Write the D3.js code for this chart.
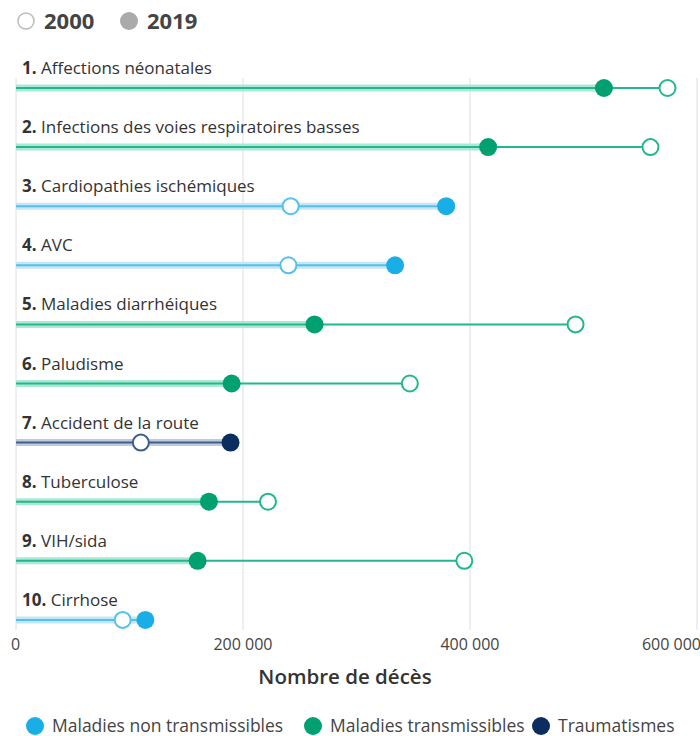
<!DOCTYPE html>
<html>
<head>
<meta charset="utf-8">
<script src="https://cdn.jsdelivr.net/npm/d3@7"></script>
<style>
  body { margin: 0; background: #fff; }
  text { font-family: "Open Sans", "Noto Sans", sans-serif; }
</style>
</head>
<body>
<svg id="chart" width="700" height="736"></svg>
<script>
// top 10 causes of death, Africa (2000 vs 2019)
const causes = ['Affections néonatales', 'Infections des voies respiratoires basses',
  'Cardiopathies ischémiques', 'AVC', 'Maladies diarrhéiques', 'Paludisme',
  'Accident de la route', 'Tuberculose', 'VIH/sida', 'Cirrhose'];
const deaths2000 = [574000, 559000, 242000, 240000, 493000, 347000, 110000, 222000, 395000, 94000];
const deaths2019 = [518000, 416000, 379000, 334000, 263000, 190000, 189000, 170000, 160000, 114000];
const groups = ['tr', 'tr', 'nt', 'nt', 'tr', 'tr', 'trauma', 'tr', 'tr', 'nt'];
const xTicks = [0, 200000, 400000, 600000];

const groupNames = {nt: 'Maladies non transmissibles', tr: 'Maladies transmissibles', trauma: 'Traumatismes'};
const colors = {
  nt:     {dot: '#1aaee6', line: '#55c0ea', halo: '#c4e6f7'},
  tr:     {dot: '#00a070', line: '#22b78e', halo: '#ace8d4'},
  trauma: {dot: '#0b2d5f', line: '#3f5f88', halo: '#bccadc'}
};

const svg = d3.select('#chart');
const left = 16, right = 697;
const rowTop = 88, rowStep = 59.1;

const x = d3.scaleLinear().domain([0, 600000]).range([left, right]);
const y = i => rowTop + i * rowStep;

const fmt = d => d3.format(',')(d).replace(/,/g, ' ');

// gridlines
svg.append('g').selectAll('line').data(xTicks).join('line')
  .attr('x1', d => x(d)).attr('x2', d => x(d))
  .attr('y1', 78).attr('y2', 630)
  .attr('stroke', '#dedede').attr('stroke-width', 1);

// tick labels
svg.append('g').selectAll('text').data(xTicks).join('text')
  .attr('x', d => x(d)).attr('y', 650)
  .attr('text-anchor', (d, i) => i === 0 ? 'start' : (i === xTicks.length - 1 ? 'end' : 'middle'))
  .attr('dx', (d, i) => i === 0 ? -5 : (i === xTicks.length - 1 ? 4 : 0))
  .attr('font-size', 16).attr('fill', '#444')
  .text(fmt);

svg.append('text')
  .attr('x', 345).attr('y', 684)
  .attr('text-anchor', 'middle')
  .attr('font-size', 20.5).attr('font-weight', 600).attr('fill', '#333')
  .text('Nombre de décès');

const data = causes.map((c, i) => ({name: c, v0: deaths2000[i], v1: deaths2019[i], g: groups[i], i: i}));

const rows = svg.append('g').selectAll('g').data(data).join('g');

// labels
const lab = rows.append('text')
  .attr('x', left + 6).attr('y', d => y(d.i) - 14)
  .attr('font-size', 17).attr('fill', '#333');
lab.append('tspan').attr('font-weight', 700).text(d => (d.i + 1) + '.');
lab.append('tspan').text(d => ' ' + d.name);

// halo bar to 2019 value
rows.append('line')
  .attr('x1', x(0)).attr('x2', d => x(d.v1))
  .attr('y1', d => y(d.i)).attr('y2', d => y(d.i))
  .attr('stroke', d => colors[d.g].halo).attr('stroke-width', 7);

// thin line to max
rows.append('line')
  .attr('x1', x(0)).attr('x2', d => x(Math.max(d.v0, d.v1)))
  .attr('y1', d => y(d.i)).attr('y2', d => y(d.i))
  .attr('stroke', d => colors[d.g].line).attr('stroke-width', 2);

// 2000 circles
rows.append('circle')
  .attr('cx', d => x(d.v0)).attr('cy', d => y(d.i)).attr('r', 8)
  .attr('fill', '#fff').attr('stroke', d => colors[d.g].line).attr('stroke-width', 2);

// 2019 circles
rows.append('circle')
  .attr('cx', d => x(d.v1)).attr('cy', d => y(d.i)).attr('r', 9)
  .attr('fill', d => colors[d.g].dot);

// top legend
const yearLeg = svg.append('g');
yearLeg.append('circle').attr('cx', 26).attr('cy', 21).attr('r', 8)
  .attr('fill', '#fff').attr('stroke', '#bbb').attr('stroke-width', 1.5);
yearLeg.append('text').attr('x', 44).attr('y', 29).attr('font-size', 22).attr('font-weight', 700)
  .attr('fill', '#444').text('2000');
yearLeg.append('circle').attr('cx', 129).attr('cy', 21).attr('r', 9).attr('fill', '#aaa');
yearLeg.append('text').attr('x', 147).attr('y', 29).attr('font-size', 22).attr('font-weight', 700)
  .attr('fill', '#444').text('2019');

// bottom legend
const legItems = ['nt', 'tr', 'trauma'];
const legX = [35, 313, 541];
const leg = svg.append('g').selectAll('g').data(legItems).join('g')
  .attr('transform', (d, i) => `translate(${legX[i]},726)`);
leg.append('circle').attr('r', 9).attr('fill', d => colors[d].dot);
leg.append('text').attr('x', 17).attr('y', 6).attr('font-size', 17.5).attr('fill', '#444')
  .text(d => groupNames[d]);
</script>
</body>
</html>
